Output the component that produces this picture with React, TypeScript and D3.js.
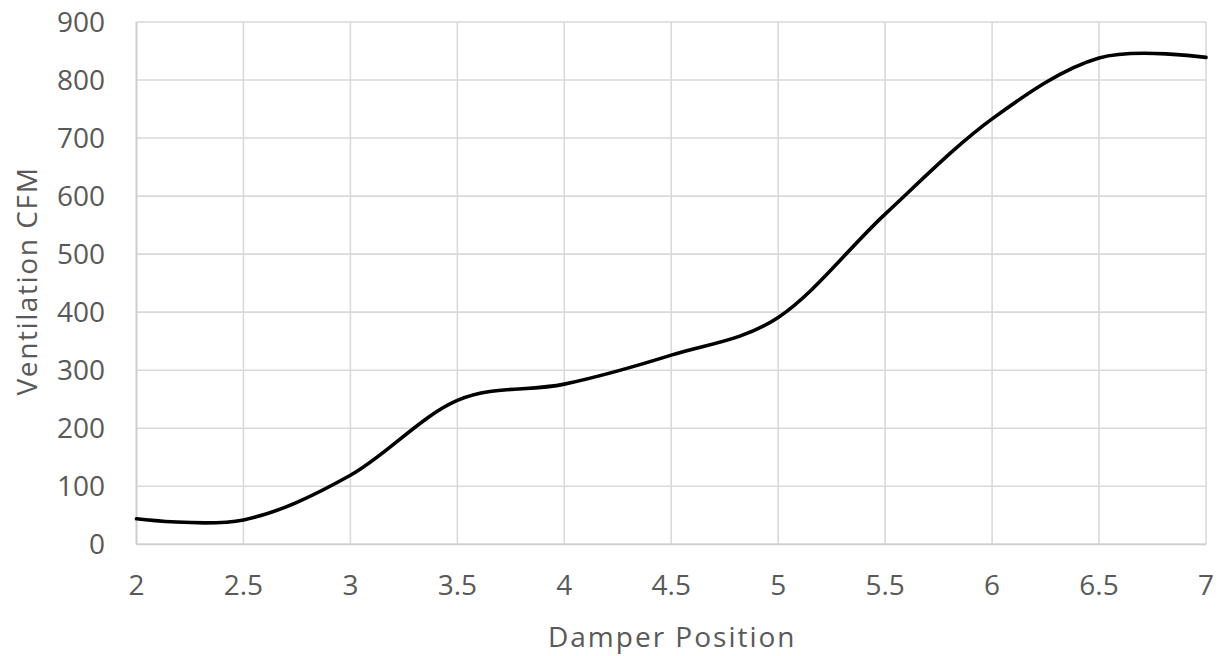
import React from "react";
import * as d3 from "d3";

const damperPosition = [2, 2.5, 3, 3.5, 4, 4.5, 5, 5.5, 6, 6.5, 7];
const ventilationCFM = [44, 42, 119, 248, 276, 326, 391, 569, 733, 838, 839];
const xTicks = [2, 2.5, 3, 3.5, 4, 4.5, 5, 5.5, 6, 6.5, 7];
const yTicks = [0, 100, 200, 300, 400, 500, 600, 700, 800, 900];

const W = 1223;
const H = 656;
const left = 136.5;
const right = 1206;
const top = 22;
const bottom = 544.3;
const FONT = "'Open Sans', 'Noto Sans', sans-serif";
const TEXT = "#595959";
const GRID = "#d9d9d9";

export default function App() {
  const x = d3.scaleLinear().domain([2, 7]).range([left, right]);
  const y = d3.scaleLinear().domain([0, 900]).range([bottom, top]);
  const pts: [number, number][] = damperPosition.map((d, i) => [d, ventilationCFM[i]]);
  const line = d3
    .line<[number, number]>()
    .x((d) => x(d[0]))
    .y((d) => y(d[1]))
    .curve(d3.curveCatmullRom.alpha(0));

  return (
    <svg width={W} height={H} style={{ position: "absolute", left: 0, top: 0, background: "#fff" }}>
      <rect x={0} y={0} width={W} height={H} fill="#fff" />
      {yTicks.map((t) => (
        <line key={"gy" + t} x1={left} x2={right} y1={y(t)} y2={y(t)} stroke={GRID} strokeWidth={1.6} />
      ))}
      {xTicks.map((t) => (
        <line key={"gx" + t} x1={x(t)} x2={x(t)} y1={top} y2={bottom} stroke={GRID} strokeWidth={1.6} />
      ))}
      <line x1={left} x2={right} y1={bottom} y2={bottom} stroke="#cfcfcf" strokeWidth={1.8} />
      <line x1={left} x2={left} y1={top} y2={bottom} stroke="#cfcfcf" strokeWidth={1.8} />
      <path d={line(pts) || ""} fill="none" stroke="#000" strokeWidth={3.6} strokeLinejoin="round" strokeLinecap="round" />
      {yTicks.map((t) => (
        <text key={"ty" + t} x={105} y={y(t)} dy="0.36em" textAnchor="end" fontFamily={FONT} fontSize={28} fill={TEXT}>
          {t}
        </text>
      ))}
      {xTicks.map((t) => (
        <text key={"tx" + t} x={x(t)} y={595} textAnchor="middle" fontFamily={FONT} fontSize={28} fill={TEXT}>
          {t}
        </text>
      ))}
      <text x={(left + right) / 2 + 1} y={647} textAnchor="middle" fontFamily={FONT} fontSize={28} letterSpacing={2} fill={TEXT}>
        Damper Position
      </text>
      <text
        transform={`translate(37, 281) rotate(-90)`}
        textAnchor="middle"
        fontFamily={FONT}
        fontSize={28}
        letterSpacing={1.6}
        fill={TEXT}
      >
        Ventilation CFM
      </text>
    </svg>
  );
}
